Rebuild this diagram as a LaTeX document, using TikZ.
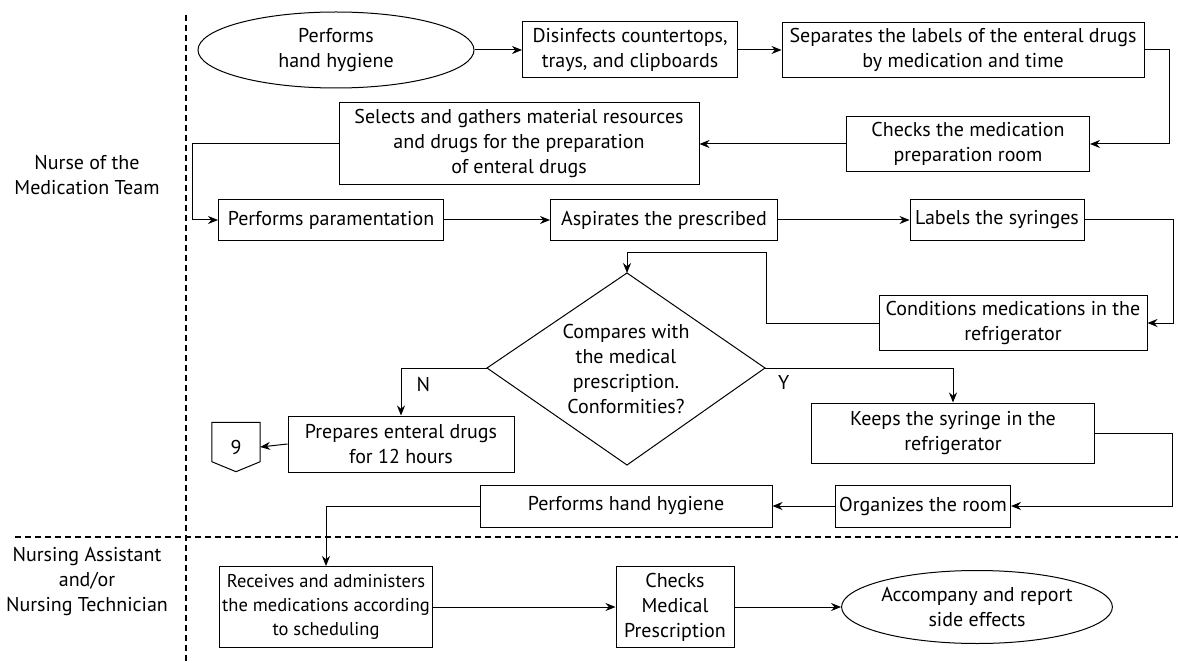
\documentclass[tikz,border=0pt]{standalone}
\usepackage{fontspec}
\setmainfont{PT Sans}
\usetikzlibrary{shapes.geometric,arrows.meta}
\begin{document}
\begin{tikzpicture}[x=1pt,y=-1pt,
  every node/.style={font=\fontsize{20}{25}\selectfont, align=center, inner sep=0pt},
  box/.style={draw, line width=1pt, rectangle},
  oval/.style={draw, line width=1pt, ellipse},
  conn/.style={line width=1pt, -{Stealth[length=10pt,width=8pt]}},
  plain/.style={line width=1pt},
  lane/.style={line width=1.2pt, dash pattern=on 6pt off 4pt}]
\useasboundingbox (0,0) rectangle (1178,663);
% lanes
\draw[lane] (186,15) -- (186,663);
\draw[lane] (15,537) -- (1178,537);
\node (lane1) at (87,175) {Nurse of the\\Medication Team};
\node (lane2) at (87,582) {Nursing Assistant\\and/or\\Nursing Technician};
% row 1
\node[oval, minimum width=276, minimum height=76] (hh1) at (336,50) {Performs\\hand hygiene};
\node[box, minimum width=215, minimum height=56] (dis) at (630,50) {Disinfects countertops,\\trays, and clipboards};
\node[box, minimum width=362, minimum height=55] (sep) at (963,50) {Separates the labels of the enteral drugs\\by medication and time};
% row 2
\node[box, minimum width=243, minimum height=55] (chk) at (968,144) {Checks the medication\\preparation room};
\node[box, minimum width=360, minimum height=82] (sel) at (519,144) {Selects and gathers material resources\\and drugs for the preparation\\of enteral drugs};
% row 3
\node[box, minimum width=225, minimum height=41] (par) at (331,220) {Performs paramentation};
\node[box, minimum width=227, minimum height=41] (asp) at (664,220) {Aspirates the prescribed};
\node[box, minimum width=174, minimum height=41] (lab) at (997,220) {Labels the syringes};
% row 4
\node[box, minimum width=268, minimum height=55] (cond) at (1013,323) {Conditions medications in the\\refrigerator};
% decision
\node (dec) at (626,369) {Compares with\\the medical\\prescription.\\Conformities?};
\coordinate (dtop) at (627,273);
\coordinate (dleft) at (487,368);
\coordinate (dright) at (765,368);
\coordinate (dbot) at (627,465);
\draw[plain] (dtop) -- (dright) -- (dbot) -- (dleft) -- cycle;
\node[box, minimum width=226, minimum height=56] (prep) at (401,444) {Prepares enteral drugs\\for 12 hours};
\node[minimum width=48, minimum height=49] (off) at (236,447) {9};
\draw[plain] (off.north west) -- (off.north east) -- ([yshift=10pt]off.south east) -- (off.south) -- ([yshift=10pt]off.south west) -- cycle;
\node[box, minimum width=283, minimum height=60] (keep) at (953,433) {Keeps the syringe in the\\refrigerator};
\node[box, minimum width=175, minimum height=42] (org) at (923,506) {Organizes the room};
\node[box, minimum width=292, minimum height=42] (hh2) at (626,506) {Performs hand hygiene};
% lane 2
\node[box, minimum width=213, minimum height=81, font=\fontsize{18.5}{24}\selectfont] (rec) at (326,607) {Receives and administers\\the medications according\\to scheduling};
\node[box, minimum width=118, minimum height=81] (chk2) at (675,607) {Checks\\Medical\\Prescription};
\node[oval, minimum width=269, minimum height=73] (acc) at (977,607) {Accompany and report\\side effects};
% connectors
\draw[conn] (hh1.east) -- (dis.west);
\draw[conn] (dis.east) -- (sep.west);
\draw[conn] (sep.east) -- (1169,50) |- (chk.east);
\draw[conn] (chk.west) -- (sel.east);
\draw[conn] (sel.west) -- (192,144) |- (par.west);
\draw[conn] (par.east) -- (asp.west);
\draw[conn] (asp.east) -- (lab.west);
\draw[conn] (lab.east) -- (1173,220) |- (cond.east);
\draw[conn] (cond.west) -- (766,323) |- (627,252) -- (dtop);
\draw[conn] (dleft) -| node[pos=0.67, right=15pt] {N} (prep.north);
\draw[conn] (dright) -| node[pos=0.05, below=7pt] {Y} (keep.north);
\draw[conn] (prep.west) -- (off.east);
\draw[conn] (keep.east) -- (1172,433) |- (org.east);
\draw[conn] (org.west) -- (hh2.east);
\draw[conn] (hh2.west) -| (rec.north);
\draw[conn] (rec.east) -- (chk2.west);
\draw[conn] (chk2.east) -- (acc.west);
\end{tikzpicture}
\end{document}
